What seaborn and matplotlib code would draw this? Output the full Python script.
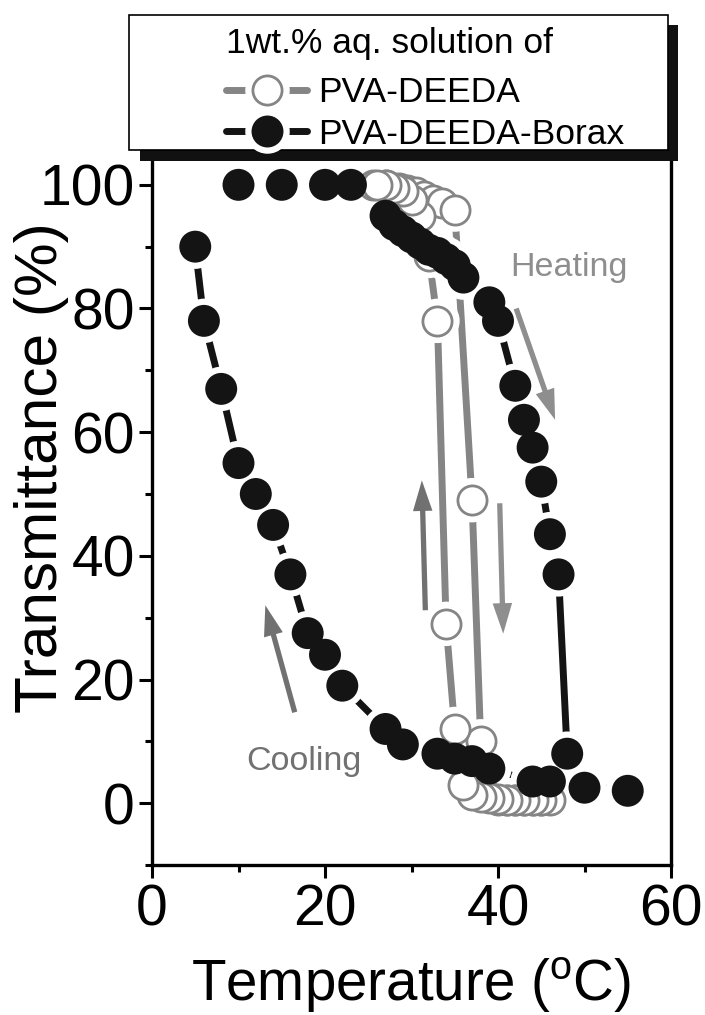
import matplotlib
matplotlib.use("Agg")
import matplotlib.pyplot as plt
import seaborn as sns
import pandas as pd
from matplotlib.lines import Line2D
from matplotlib.patches import Rectangle
from matplotlib.ticker import MultipleLocator
from matplotlib.legend_handler import HandlerTuple

# ---------------- data ----------------
# PVA-DEEDA: heating then cooling
pva_temp = [25.5, 27, 28.5, 29.5, 30.5, 31.5, 32.5, 33.5, 35, 37, 38,
            39, 40, 41, 42, 43, 44, 45, 46,
            45, 44, 43, 42, 41, 40, 39, 38, 37, 36, 35, 34, 33, 32, 31, 30, 29, 28, 27, 26]
pva_trans = [100, 100, 99.5, 99.2, 98.8, 98.2, 97.6, 97, 96, 49, 10,
             1, 0.5, 0.5, 0.5, 0.5, 0.5, 0.5, 0.5,
             0.5, 0.5, 0.5, 0.5, 0.5, 0.6, 0.8, 1, 1.3, 3, 12, 29, 78, 88.5, 95, 97.5, 99, 99.5, 100, 100]

# PVA-DEEDA-Borax: heating then cooling
borax_temp = [10, 15, 20, 23, 27, 28, 29, 30, 31, 32, 33, 34, 35, 36, 39, 40,
              42, 43, 44, 45, 46, 47, 48, 50, 55,
              46, 44, 39, 37, 35, 33, 29, 27, 22, 20, 18, 16, 14, 12, 10, 8, 6, 5]
borax_trans = [100, 100, 100, 100, 95, 93.5, 92.5, 91.5, 90.5, 89.5, 89, 88, 87, 85, 81, 78,
               67.5, 62, 57.5, 52, 43.5, 37, 8, 2.5, 2,
               3.5, 3.5, 5.6, 6.8, 7.2, 8, 9.5, 12, 19, 24, 27.5, 37, 45, 50, 55, 67, 78, 90]

series_labels = ["PVA-DEEDA", "PVA-DEEDA-Borax"]
legend_title = "1wt.% aq. solution of"
x_label = "Temperature ($^{\\mathrm{o}}$C)"
y_label = "Transmittance (%)"
x_ticks = [0, 20, 40, 60]
y_ticks = [0, 20, 40, 60, 80, 100]

# annotations: (text, x, y)
notes = [("Heating", 41.4, 85.2), ("Cooling", 10.9, 5.4)]
# arrows: (tail x, tail y, tip x, tip y, kind)
arrows = [(42.1, 80.0, 46.6, 62.0, "heat"),
          (40.2, 48.5, 40.6, 27.4, "heat"),
          (31.6, 31.2, 31.2, 52.2, "cool"),
          (16.5, 14.7, 13.1, 32.0, "cool")]

# ---------------- style ----------------
sns.set_style("ticks")
plt.rcParams["font.family"] = ["Liberation Sans", "DejaVu Sans"]
plt.rcParams["mathtext.fontset"] = "custom"
plt.rcParams["mathtext.rm"] = "Liberation Sans"
plt.rcParams["mathtext.it"] = "Liberation Sans:italic"
plt.rcParams["mathtext.bf"] = "Liberation Sans:bold"
plt.rcParams["axes.edgecolor"] = "black"
plt.rcParams["text.color"] = "black"
plt.rcParams["axes.labelcolor"] = "black"
plt.rcParams["xtick.color"] = "black"
plt.rcParams["ytick.color"] = "black"

GRAY = "#858585"
BLACK = "#141414"
HEAT_C = "#8e8e8e"
COOL_C = "#717171"

W, H = 705, 1015
fig = plt.figure(figsize=(W / 100, H / 100), dpi=100)
ax = fig.add_axes([152 / W, 150 / H, 519 / W, 742 / H])

pva = pd.DataFrame({"T": pva_temp, "Tr": pva_trans})
bor = pd.DataFrame({"T": borax_temp, "Tr": borax_trans})

LW = 5
MS = 23
HALO = 32

sns.lineplot(data=pva, x="T", y="Tr", sort=False, estimator=None, color=GRAY,
             lw=LW, ax=ax, zorder=2, legend=False)
sns.lineplot(data=bor, x="T", y="Tr", sort=False, estimator=None, color=BLACK,
             lw=LW, ax=ax, zorder=2.1, legend=False)
# white halos give the "gap to symbol" look of the original
for d in (pva, bor):
    sns.scatterplot(data=d, x="T", y="Tr", s=HALO ** 2, color="white",
                    edgecolor="none", linewidth=0, ax=ax, zorder=3, legend=False)
sns.scatterplot(data=pva, x="T", y="Tr", s=(MS - 2) ** 2, color="white",
                edgecolor=GRAY, linewidth=2, ax=ax, zorder=4, legend=False)
sns.scatterplot(data=bor, x="T", y="Tr", s=MS ** 2, color=BLACK,
                edgecolor="none", linewidth=0, ax=ax, zorder=5, legend=False)

for (x0, y0, x1, y1, kind) in arrows:
    c = HEAT_C if kind == "heat" else COOL_C
    ax.annotate("", xy=(x1, y1), xytext=(x0, y0),
                arrowprops=dict(facecolor=c, edgecolor="none", width=3.8,
                                headwidth=14, headlength=22, shrink=0),
                zorder=6)
for (txt, x, y) in notes:
    ax.text(x, y, txt, fontsize=24.5, ha="left", va="baseline",
            color=HEAT_C if txt == "Heating" else COOL_C, zorder=6)

ax.set_xlim(0, 60)
ax.set_ylim(-10, 110)
ax.set_xticks(x_ticks)
ax.set_yticks(y_ticks)
ax.xaxis.set_minor_locator(MultipleLocator(10))
ax.yaxis.set_minor_locator(MultipleLocator(10))
ax.tick_params(axis="both", which="major", direction="out", length=9.5,
               width=2.2, labelsize=41)
ax.tick_params(axis="both", which="minor", direction="out", length=5, width=2.2)
ax.tick_params(axis="y", which="major", pad=3)
ax.tick_params(axis="x", which="major", pad=4)
for s in ax.spines.values():
    s.set_linewidth(2.4)
ax.spines["top"].set_visible(False)

ax.set_xlabel(x_label, fontsize=40.7, labelpad=13)
ax.set_ylabel(y_label, fontsize=43.5)
ax.yaxis.set_label_coords(-0.16, 0.535)

# legend box with drop shadow
fig.patches.append(Rectangle((140 / W, 1 - 161 / H), (678 - 140) / W, (161 - 25) / H,
                             transform=fig.transFigure, facecolor="#111111",
                             edgecolor="none", zorder=1))
fig.patches.append(Rectangle((129 / W, 1 - 150 / H), (668 - 129) / W, (150 - 15) / H,
                             transform=fig.transFigure, facecolor="white",
                             edgecolor="black", linewidth=1.2, zorder=1.1))

h_pva = (Line2D([], [], color=GRAY, lw=LW),
         Line2D([], [], ls="", marker="o", ms=HALO - 1, mfc="white", mec="white"),
         Line2D([], [], ls="", marker="o", ms=MS - 2, mfc="white", mec=GRAY, mew=2))
h_bor = (Line2D([], [], color=BLACK, lw=LW),
         Line2D([], [], ls="", marker="o", ms=HALO - 1, mfc="white", mec="white"),
         Line2D([], [], ls="", marker="o", ms=MS, mfc=BLACK, mec=BLACK, mew=0))
LEG_FS = 25.5
leg = fig.legend([h_pva, h_bor], series_labels, title=legend_title,
                 loc="upper left", bbox_to_anchor=(226 / W, 1 - 27 / H),
                 bbox_transform=fig.transFigure, frameon=False, borderpad=0,
                 borderaxespad=0, fontsize=LEG_FS, title_fontsize=LEG_FS,
                 alignment="left", handlelength=2.3, handletextpad=0.3,
                 labelspacing=0.25, numpoints=1,
                 handler_map={tuple: HandlerTuple(ndivide=1)})
leg._legend_box.sep = 0.45 * LEG_FS
leg.set_zorder(3)

fig.savefig("out.png", dpi=100)
